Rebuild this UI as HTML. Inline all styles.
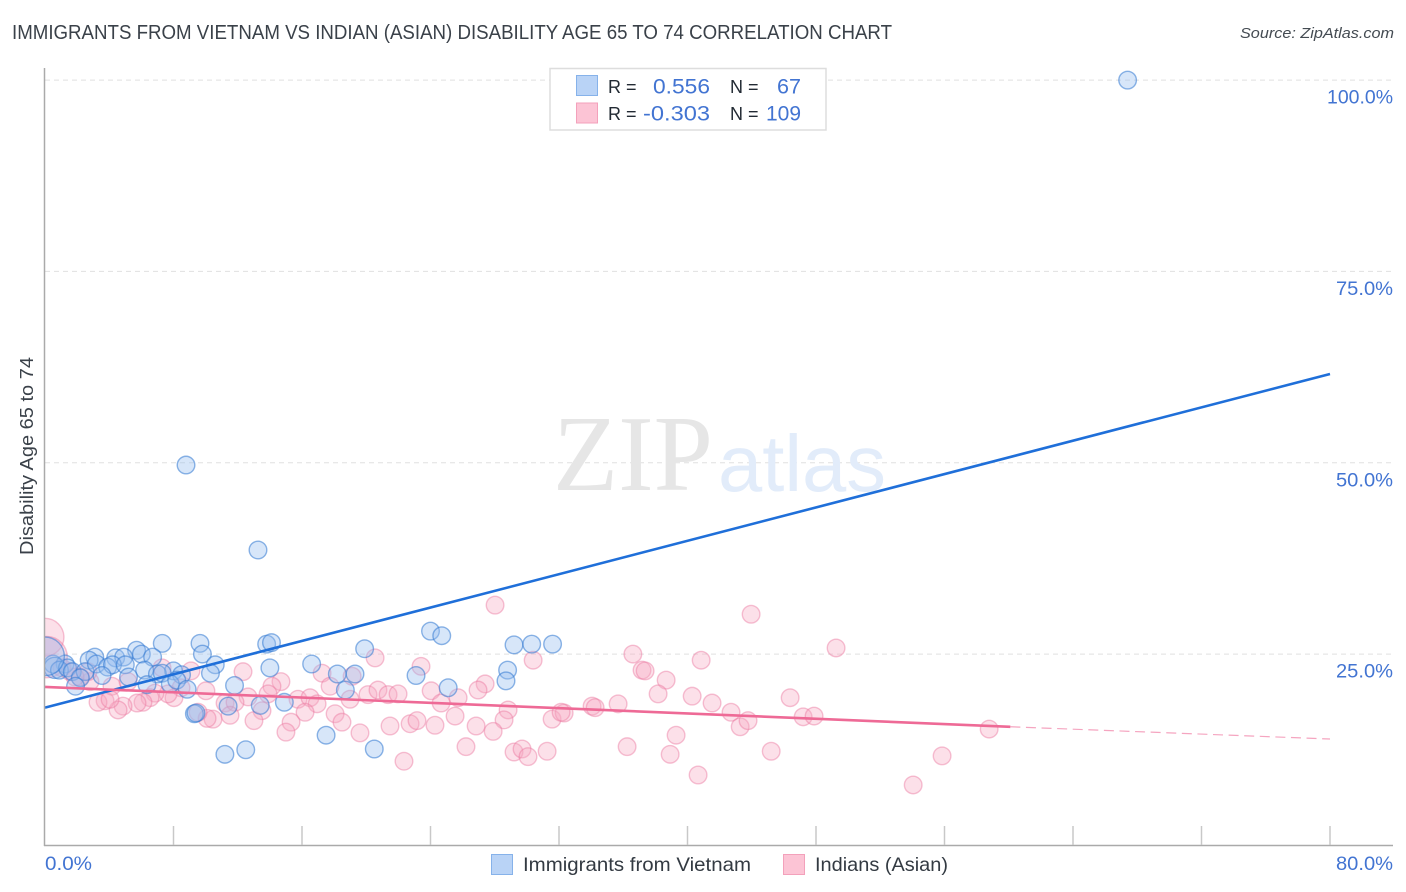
<!DOCTYPE html>
<html lang="en">
<head>
<meta charset="utf-8">
<title>Immigrants from Vietnam vs Indian (Asian) Disability Age 65 to 74 Correlation Chart</title>
<style>
html,body{margin:0;padding:0;background:#fff;}
svg{display:block;font-family:"Liberation Sans",sans-serif;}
</style>
</head>
<body>
<svg id="chart" xmlns="http://www.w3.org/2000/svg" width="1406" height="892" viewBox="0 0 1406 892">
  <rect x="0" y="0" width="1406" height="892" fill="#ffffff"></rect>
  <text x="12" y="39" font-size="20" fill="#3a4149" textLength="880" lengthAdjust="spacingAndGlyphs">IMMIGRANTS FROM VIETNAM VS INDIAN (ASIAN) DISABILITY AGE 65 TO 74 CORRELATION CHART</text>
  <text x="1394" y="38" font-size="15" font-style="italic" fill="#444b52" text-anchor="end" textLength="154" lengthAdjust="spacingAndGlyphs">Source: ZipAtlas.com</text>
  <g id="grid"></g>
  <g>
    <text x="553" y="490" font-family="'Liberation Serif',serif" font-size="108" fill="#e6e6e6" textLength="160" lengthAdjust="spacingAndGlyphs">ZIP</text>
    <text x="718" y="491" font-size="80" fill="#e2ecfa" textLength="168" lengthAdjust="spacingAndGlyphs">atlas</text>
  </g>
  <g id="points"></g>
  <rect x="0" y="60" width="45" height="785" fill="#ffffff"></rect>
  <g id="trends"></g>
  <g id="axes"></g>
  <text transform="translate(33,456) rotate(-90)" font-size="18" fill="#3a4149" text-anchor="middle" textLength="198" lengthAdjust="spacingAndGlyphs">Disability Age 65 to 74</text>

  <g>
    <rect x="550" y="68.5" width="276" height="61.5" fill="#ffffff" stroke="#dddddd" stroke-width="1.5"></rect>
    <rect x="576.5" y="75.5" width="21" height="20" fill="#b9d3f6" stroke="#86b2ea" stroke-width="1"></rect>
    <rect x="576.5" y="103" width="21" height="20" fill="#fcc4d5" stroke="#f3a1bb" stroke-width="1"></rect>
    <text x="608" y="93" font-size="18" fill="#222a33">R =</text>
    <text x="710" y="93.5" font-size="21.5" fill="#4274d2" text-anchor="end" textLength="57" lengthAdjust="spacingAndGlyphs">0.556</text>
    <text x="730" y="93" font-size="18" fill="#222a33">N =</text>
    <text x="801" y="93.5" font-size="21.5" fill="#4274d2" text-anchor="end" textLength="24" lengthAdjust="spacingAndGlyphs">67</text>
    <text x="608" y="120" font-size="18" fill="#222a33">R =</text>
    <text x="710" y="120.5" font-size="21.5" fill="#4274d2" text-anchor="end" textLength="67" lengthAdjust="spacingAndGlyphs">-0.303</text>
    <text x="730" y="120" font-size="18" fill="#222a33">N =</text>
    <text x="801" y="120.5" font-size="21.5" fill="#4274d2" text-anchor="end" textLength="35" lengthAdjust="spacingAndGlyphs">109</text>
  </g>

  <g>
    <rect x="491.5" y="854.5" width="21" height="20" fill="#b9d3f6" stroke="#86b2ea" stroke-width="1"></rect>
    <text x="523" y="871" font-size="19.5" fill="#333a42" textLength="228" lengthAdjust="spacingAndGlyphs">Immigrants from Vietnam</text>
    <rect x="783.5" y="854.5" width="21" height="20" fill="#fcc4d5" stroke="#f3a1bb" stroke-width="1"></rect>
    <text x="815" y="871" font-size="19.5" fill="#333a42" textLength="133" lengthAdjust="spacingAndGlyphs">Indians (Asian)</text>
  </g>
</svg>
<script>
// ---- chart data ----
const xTickValues = [0, 8, 16, 24, 32, 40, 48, 56, 64, 72, 80];
const yGridValues = [25, 50, 75, 100];
const yTickLabels = ['25.0%', '50.0%', '75.0%', '100.0%'];
const xEndLabels = ['0.0%', '80.0%'];

const vietnamX = [67.4,8.78,13.26,24.0,24.7,29.2,30.3,31.6,7.3,9.65,13.8,14.1,19.9,5.7,6.0,9.8,3.1,2.75,4.4,4.9,6.7,0.5,1.25,0.6,0.9,1.4,1.7,2.5,3.2,3.9,4.2,5.0,6.2,8.0,10.6,14.0,16.6,18.2,19.3,23.1,28.8,28.7,25.1,7.0,7.3,8.5,10.3,3.55,0.0,2.2,5.2,1.9,6.35,7.8,8.2,8.85,11.8,18.7,14.9,11.4,13.4,9.3,9.4,17.5,20.5,11.2,12.5];
const vietnamY = [100,49.7,38.6,28.0,27.4,26.2,26.3,26.3,26.4,26.4,26.3,26.5,25.7,25.5,25.0,25.0,24.6,24.2,24.5,24.6,24.6,23.7,23.7,23.2,22.9,23.2,22.7,22.7,23.7,23.3,23.6,23.6,22.9,22.8,23.6,23.2,23.7,22.4,22.4,22.2,22.9,21.5,20.6,22.4,22.5,22.3,22.5,22.2,24.7,21.9,22.0,20.8,21.0,21.1,21.6,20.4,20.9,20.3,18.7,18.2,18.3,17.2,17.3,14.4,12.6,11.9,12.5];
// Bubble weight by point index; unlisted points use weight 1.
const vietnamWeights = {23:1.2,48:2.2};

const indianX = [0.0,0.1,28.02,43.96,49.25,36.6,40.85,38.67,20.55,23.41,30.39,37.17,37.36,12.33,14.69,17.25,19.12,14.13,17.75,24.04,27.4,26.96,10.02,7.29,9.09,38.17,40.29,41.53,46.39,35.68,34.06,34.25,42.71,43.28,43.77,47.2,47.88,58.78,31.57,32.32,32.13,28.83,28.58,25.72,24.66,25.53,20.11,20.73,21.36,21.98,18.99,15.75,16.5,16.94,16.19,15.32,15.0,12.64,13.89,13.51,13.01,11.21,11.83,11.52,10.46,10.09,9.53,8.47,8.03,7.66,6.85,6.54,6.1,5.73,4.86,4.55,3.74,3.3,4.17,2.8,18.06,18.49,19.61,21.48,22.73,23.16,24.28,26.84,27.9,26.21,29.2,29.7,30.07,31.26,36.24,39.29,38.92,22.35,45.21,40.66,54.05,55.85,1.06,1.56,2.18,2.68,1.87,4.05,5.17];
const indianY = [27.2,24.6,31.4,30.2,25.8,25.0,24.2,21.6,24.5,23.4,24.2,22.9,22.8,22.7,21.4,22.5,22.1,20.8,20.8,20.2,21.1,20.3,20.2,23.2,22.8,19.8,19.5,18.6,19.3,18.5,18.2,18.0,17.4,15.5,16.3,16.8,16.9,15.2,16.5,17.3,17.4,17.7,16.4,19.3,18.6,16.9,19.7,20.3,19.7,19.8,19.1,19.1,19.3,18.5,17.4,16.1,14.8,19.4,19.8,17.6,16.3,18.6,18.7,17.0,16.5,16.6,17.4,20.6,19.3,19.8,19.9,19.3,18.7,18.6,18.2,17.7,18.9,18.7,20.8,21.4,17.2,16.1,14.7,15.6,15.9,16.3,15.7,15.6,14.9,12.9,12.2,12.6,11.6,12.3,12.9,14.4,11.9,11.0,12.3,9.2,7.9,11.7,23.2,22.7,22.0,22.7,22.0,19.1,21.4];
const indianWeights = {0:2.15,1:2.35};

const vietnamTrendX = [0, 80];
const vietnamTrendY = [18.0, 61.6];
const indianTrendX = [0, 60.1, 80];
const indianTrendY = [20.7, 15.5, 13.9];

// ---- axis functions ----
const xScale = v => 45 + v * 16.0625;
const yScale = v => 845.4 - v * 7.653;
const baseRadius = 8.8;
const NS = 'http://www.w3.org/2000/svg';
function make(tag, attrs, parent) {
  const el = document.createElementNS(NS, tag);
  for (const k in attrs) el.setAttribute(k, attrs[k]);
  parent.appendChild(el);
  return el;
}

// gridlines and y tick labels
const gridG = document.getElementById('grid');
const axesG = document.getElementById('axes');
yGridValues.forEach((v, i) => {
  const gl = make('line', {x1: 45, x2: 1393, y1: yScale(v), y2: yScale(v), stroke: '#e0e0e0', 'stroke-width': 1, 'stroke-dasharray': '5 4'}, gridG);
  
  
  const label = yTickLabels[i];
  const t = make('text', {x: 1393, y: yScale(v) + 23.5, 'font-size': 19, fill: '#4274d2', 'text-anchor': 'end', textLength: label.length > 5 ? 66 : 57, lengthAdjust: 'spacingAndGlyphs'}, axesG);
  
  
  t.textContent = label;
});

// axes lines
const yAxis = make('line', {x1: 44.5, x2: 44.5, y1: 68, y2: 846, stroke: '#aaaaaa', 'stroke-width': 1.5}, axesG);


const xAxis = make('line', {x1: 44, x2: 1393, y1: 845.5, y2: 845.5, stroke: '#aaaaaa', 'stroke-width': 1.5}, axesG);



xTickValues.slice(1).forEach(v => {
  const tk = make('line', {x1: xScale(v), x2: xScale(v), y1: 826, y2: 845, stroke: '#c8c8c8', 'stroke-width': 1.5}, axesG);
  
  
});

const xLabelStart = make('text', {x: 45, y: 870, 'font-size': 19, fill: '#4274d2', textLength: 47, lengthAdjust: 'spacingAndGlyphs'}, axesG);


xLabelStart.textContent = xEndLabels[0];
const xLabelEnd = make('text', {x: 1393, y: 870, 'font-size': 19, fill: '#4274d2', 'text-anchor': 'end', textLength: 57, lengthAdjust: 'spacingAndGlyphs'}, axesG);


xLabelEnd.textContent = xEndLabels[1];

// points
const pointsG = document.getElementById('points');
indianX.forEach((x, i) => {
  const c = make('circle', {cx: xScale(x), cy: yScale(indianY[i]), r: baseRadius * (indianWeights[i] || 1), fill: 'rgba(248,170,195,0.36)', stroke: 'rgba(235,120,160,0.45)', 'stroke-width': 1.4}, pointsG);
  
  
});
vietnamX.forEach((x, i) => {
  const c = make('circle', {cx: xScale(x), cy: yScale(vietnamY[i]), r: baseRadius * (vietnamWeights[i] || 1), fill: 'rgba(150,190,240,0.38)', stroke: 'rgba(50,120,210,0.55)', 'stroke-width': 1.4}, pointsG);
  
  
});

// trend lines
const trendsG = document.getElementById('trends');
const vt = make('line', {x1: xScale(vietnamTrendX[0]), y1: yScale(vietnamTrendY[0]), x2: xScale(vietnamTrendX[1]), y2: yScale(vietnamTrendY[1]), stroke: '#1f6fd9', 'stroke-width': 2.6}, trendsG);


const it = make('line', {x1: xScale(indianTrendX[0]), y1: yScale(indianTrendY[0]), x2: xScale(indianTrendX[1]), y2: yScale(indianTrendY[1]), stroke: '#ee6a96', 'stroke-width': 2.6}, trendsG);


const id = make('line', {x1: xScale(indianTrendX[1]), y1: yScale(indianTrendY[1]), x2: xScale(indianTrendX[2]), y2: yScale(indianTrendY[2]), stroke: '#f5a5c0', 'stroke-width': 1.2, 'stroke-dasharray': '10 5.6'}, trendsG);


</script>
</body>
</html>
